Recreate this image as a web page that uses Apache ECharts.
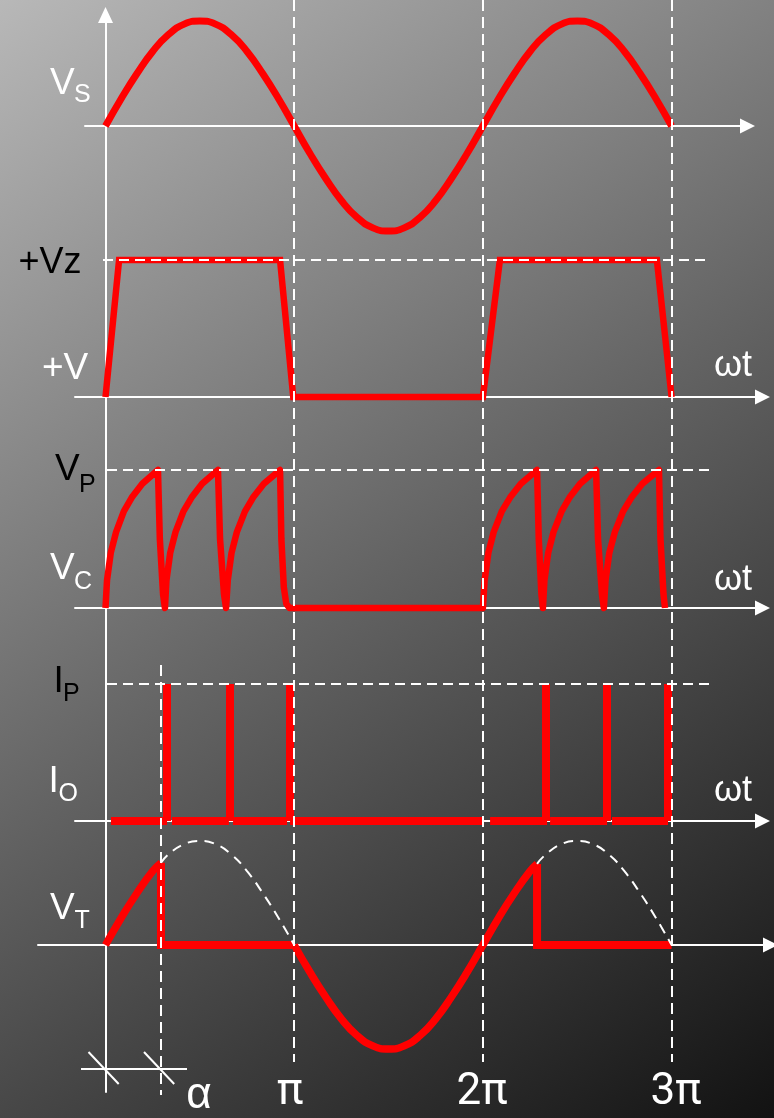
<!DOCTYPE html>
<html><head><meta charset="utf-8">
<script src="https://cdn.jsdelivr.net/npm/echarts@6/dist/echarts.min.js"></script>
<style>html,body{margin:0;padding:0;background:#000}#c{width:774px;height:1118px}</style>
</head><body><div id="c"></div>
<script>
// ===== DATA (x in units of π, amplitudes normalised) =====
const vsPoints = [[0,0],[0.083,0.26],[0.167,0.5],[0.25,0.71],[0.333,0.87],[0.417,0.97],[0.5,1],[0.583,0.97],[0.667,0.87],[0.75,0.71],[0.833,0.5],[0.917,0.26],[1,0],[1.083,-0.26],[1.167,-0.5],[1.25,-0.71],[1.333,-0.87],[1.417,-0.97],[1.5,-1],[1.583,-0.97],[1.667,-0.87],[1.75,-0.71],[1.833,-0.5],[1.917,-0.26],[2,0],[2.083,0.26],[2.167,0.5],[2.25,0.71],[2.333,0.87],[2.417,0.97],[2.5,1],[2.583,0.97],[2.667,0.87],[2.75,0.71],[2.833,0.5],[2.917,0.26],[3,0]];
const vzPoints = [[0,0],[0.072,1],[0.925,1],[0.995,0],[2.0,0],[2.09,1],[2.922,1],[3.0,0]];
const vcPoints = [
  [0,0],[0.008,0.2],[0.028,0.4],[0.056,0.55],[0.097,0.7],[0.139,0.8],[0.195,0.9],[0.278,1.0],[0.288,0.5],[0.305,0.1],[0.315,0],
  [0.323,0.2],[0.343,0.4],[0.371,0.55],[0.413,0.7],[0.456,0.8],[0.512,0.9],[0.596,1.0],[0.607,0.5],[0.628,0.1],[0.639,0],
  [0.648,0.2],[0.668,0.4],[0.696,0.55],[0.739,0.7],[0.782,0.8],[0.839,0.9],[0.925,1.0],[0.932,0.5],[0.945,0.15],[0.958,0.03],[0.975,0],
  [2.0,0],[2.009,0.2],[2.029,0.4],[2.057,0.55],[2.1,0.7],[2.144,0.8],[2.201,0.9],[2.287,1.0],[2.296,0.5],[2.31,0.1],[2.318,0],
  [2.326,0.2],[2.346,0.4],[2.374,0.55],[2.417,0.7],[2.459,0.8],[2.515,0.9],[2.6,1.0],[2.61,0.5],[2.631,0.1],[2.641,0],
  [2.65,0.2],[2.67,0.4],[2.699,0.55],[2.743,0.7],[2.787,0.8],[2.845,0.9],[2.933,1.0],[2.941,0.5],[2.957,0.1],[2.965,0]
];
const ioPulseX = [0.326, 0.657, 0.978, 2.332, 2.658, 2.981];
const ioPulseTop = 1;
const ioBaseSegments = [[0.029,0.326],[0.352,0.654],[0.676,0.962],[0.978,2.006],[2.038,2.340],[2.356,2.658],[2.684,2.981]];
const alpha = 0.294;
const vtRise1 = [[0,0],[0.083,0.26],[0.167,0.5],[0.25,0.71],[0.294,0.79]];
const vtHold1 = [[0.294,0.79],[0.294,0],[1,0]];
const vtRise2 = [[1,0],[1.083,-0.26],[1.167,-0.5],[1.25,-0.71],[1.333,-0.87],[1.417,-0.97],[1.5,-1],[1.583,-0.97],[1.667,-0.87],[1.75,-0.71],[1.833,-0.5],[1.917,-0.26],[2,0],[2.083,0.26],[2.167,0.5],[2.25,0.71],[2.287,0.78]];
const vtHold2 = [[2.287,0.78],[2.287,0],[3,0]];
const vtDash1 = [[0.294,0.79],[0.333,0.87],[0.417,0.97],[0.5,1],[0.583,0.97],[0.667,0.87],[0.75,0.71],[0.833,0.5],[0.917,0.26],[1,0]];
const vtDash2 = [[2.287,0.78],[2.333,0.87],[2.417,0.97],[2.5,1],[2.583,0.97],[2.667,0.87],[2.75,0.71],[2.833,0.5],[2.917,0.26],[3,0]];
const piMarks = [1, 2, 3];
const tickLabels = ['π', '2π', '3π'];
const alphaLabel = 'α';

// ===== LAYOUT =====
const X0 = 105.5, K = 188.7;           // pixel of x=0 and pixels per π
const toX = px => (px - X0) / K;
const RED = '#ff0000', WHITE = '#ffffff';
const panels = [
  {left:85, right:747.5, top:21,  height:210, min:-1, max:1},  // Vs
  {left:75, right:762.5, top:260, height:137, min:0,  max:1},  // Vz
  {left:75, right:762.5, top:470, height:138, min:0,  max:1},  // Vc
  {left:75, right:762.5, top:684, height:137, min:0,  max:1},  // Io
  {left:38, right:770.5, top:841, height:208, min:-1, max:1}   // Vt
];
const grid = panels.map(p => ({left:p.left, top:p.top, width:p.right-p.left, height:p.height}));
grid.push({left:0, top:0, width:774, height:1118});          // 5 overlay
grid.push({left:X0, top:15, width:10, height:1077});        // 6 vertical axis
const xAxis = panels.map((p,i) => ({
  type:'value', gridIndex:i, min:toX(p.left), max:toX(p.right),
  axisLine:{show:true, onZero:true, symbol:['none','triangle'], symbolSize:[15,15], lineStyle:{color:WHITE, width:2}},
  axisTick:{show:false}, axisLabel:{show:false}, splitLine:{show:false}
}));
xAxis.push({type:'value', gridIndex:5, min:toX(0), max:toX(774), show:false});
xAxis.push({type:'value', gridIndex:6, min:0, max:1, show:false});
const yAxis = panels.map((p,i) => ({type:'value', gridIndex:i, min:p.min, max:p.max, show:false}));
yAxis.push({type:'value', gridIndex:5, min:0, max:1118, inverse:true, show:false});
yAxis.push({type:'value', gridIndex:6, min:0, max:1, position:'left',
  axisLine:{show:true, onZero:false, symbol:['none','triangle'], symbolSize:[15,16], lineStyle:{color:WHITE, width:2}},
  axisTick:{show:false}, axisLabel:{show:false}, splitLine:{show:false}});

function lineS(gi, data, width, opts, join) {
  return Object.assign({type:'line', xAxisIndex:gi, yAxisIndex:gi, data, showSymbol:false, symbol:'none',
    clip:false, silent:true, z:3, lineStyle:{color:RED, width, join: join || 'miter'}}, opts || {});
}
function segs(gi, list, style, z) {
  return {type:'lines', coordinateSystem:'cartesian2d', xAxisIndex:gi, yAxisIndex:gi, clip:false, silent:true,
    z: z || 3, lineStyle:Object.assign({opacity:1, curveness:0}, style), data: list.map(c => ({coords:c}))};
}
const hDash = {color:WHITE, width:2, type:[10,6]};
const vDash = {color:WHITE, width:2, type:[11,6]};

const series = [
  lineS(0, vsPoints, 7, {smooth:true}),
  lineS(1, vzPoints, 6.5),
  segs(1, [[[toX(103),1],[toX(710),1]]], hDash, 5),
  lineS(2, vcPoints, 6.5, null, 'round'),
  segs(2, [[[toX(107),1],[toX(710),1]]], hDash, 5),
  segs(3, ioBaseSegments.map(s => [[s[0],0],[s[1],0]]), {color:RED, width:8}),
  segs(3, ioPulseX.map(x => [[x,0],[x,ioPulseTop]]), {color:RED, width:8}),
  segs(3, [[[toX(107),1],[toX(710),1]]], hDash, 5),
  lineS(4, vtRise1, 7.5, {smooth:true}),
  lineS(4, vtHold1, 8),
  lineS(4, vtRise2, 7.5, {smooth:true}),
  lineS(4, vtHold2, 8),
  lineS(4, vtDash1, 2, {smooth:true, lineStyle:{color:WHITE, width:2, type:[10,7]}}),
  lineS(4, vtDash2, 2, {smooth:true, lineStyle:{color:WHITE, width:2, type:[10,7]}}),
  segs(5, piMarks.map(x => [[x,0],[x,1062]]).concat([[[alpha,665],[alpha,1095]]]), vDash, 6),
  segs(5, [[[toX(81),1069],[toX(187),1069]], [[-0.09,1052],[0.07,1084]], [[alpha-0.09,1052],[alpha+0.07,1084]]],
       {color:WHITE, width:2}, 6)
];

const FONT = "'Liberation Sans', Arial, sans-serif";
const PIFONT = "Roboto, 'Liberation Sans', sans-serif";
function txt(t, x, y, size, color, align, fam) {
  return {type:'text', x, y, z:100, silent:true,
    style:{text:t, fill:color, font:size+'px '+(fam||FONT), align:align||'left', verticalAlign:'middle',
           textAlign:align||'left', textVerticalAlign:'middle'}};
}
const B = '#000000';
const graphic = [
  txt('V',50,83.5,37,WHITE), txt('S',74,95,25,WHITE),
  txt('+Vz',18.5,263,36,B),
  txt('+V',42,368.5,37,WHITE),
  txt('ωt',714,366,36,WHITE),
  txt('V',55,470,37,B), txt('P',79,485,25,B),
  txt('V',50,568.5,37,WHITE), txt('C',74,582,25,WHITE),
  txt('ωt',714,580,36,WHITE),
  txt('I',53.5,681.5,37,B), txt('P',63,694,25,B),
  txt('I',48.5,781.5,37,WHITE), txt('O',58.5,794,25,WHITE),
  txt('ωt',714,791,36,WHITE),
  txt('V',50,908.5,37,WHITE), txt('T',74.5,921.5,25,WHITE),
  txt(alphaLabel,199,1096,44,WHITE,'center'),
  txt(tickLabels[0],290,1093,44,WHITE,'center',PIFONT),
  txt(tickLabels[1],482,1093,44,WHITE,'center',PIFONT),
  txt(tickLabels[2],676,1093,44,WHITE,'center',PIFONT)
];

const chart = echarts.init(document.getElementById('c'), null, {renderer:'canvas', width:774, height:1118});
chart.setOption({
  animation:false,
  backgroundColor:{type:'linear', x:0, y:0, x2:1, y2:1,
    colorStops:[{offset:0,color:'#b8b8b8'},{offset:0.5,color:'#646464'},{offset:1,color:'#121212'}]},
  grid, xAxis, yAxis, series, graphic
});
</script></body></html>
